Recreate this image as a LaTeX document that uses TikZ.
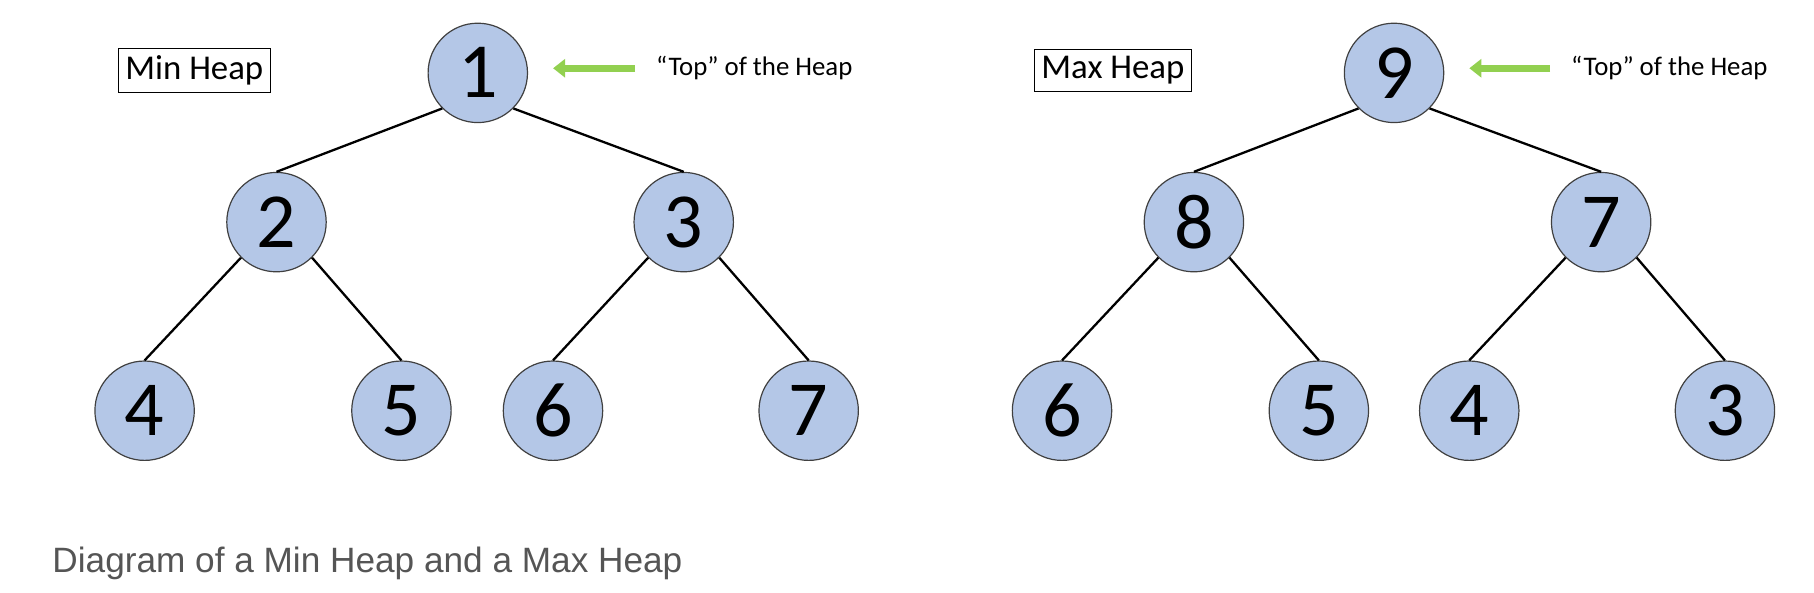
\documentclass[tikz,border=0pt]{standalone}
\usepackage{fontspec}
\setmainfont{Carlito}
\newfontfamily\captionfont{Liberation Sans}
\usetikzlibrary{arrows.meta, positioning}
\definecolor{heapblue}{RGB}{180,199,231}
\definecolor{topgreen}{RGB}{146,208,80}
\definecolor{capgray}{RGB}{85,85,85}

\begin{document}
\begin{tikzpicture}[x=0.5785pt, y=-0.5785pt,
        key/.style={circle, draw=black!75, line width=0.6pt, fill=heapblue, minimum size=49.7pt, inner sep=0pt, font=\fontsize{39}{39}\selectfont},
        edge/.style={line width=1.15pt},
        title/.style={draw, line width=0.6pt, inner sep=3.5pt, font=\fontsize{17.4}{17.4}\selectfont},
        toptext/.style={font=\fontsize{13.4}{13.4}\selectfont},
        pointer/.style={draw=topgreen, line width=3.5pt, -{Triangle[length=6pt, width=9pt]}}]
        \useasboundingbox (0,0) rectangle (1568,512);
        % min heap
        \node[key] (min1) at (413,63) {1};
        \node[key] (min2) at (239,192) {2};
        \node[key] (min3) at (591,192) {3};
        \node[key] (min4) at (125,355) {4};
        \node[key] (min5) at (347,355) {5};
        \node[key] (min6) at (478,355) {6};
        \node[key] (min7) at (699,355) {7};
        \draw[edge] (min1.south west) -- (min2.north);
        \draw[edge] (min1.south east) -- (min3.north);
        \draw[edge] (min2.south west) -- (min4.north);
        \draw[edge] (min2.south east) -- (min5.north);
        \draw[edge] (min3.south west) -- (min6.north);
        \draw[edge] (min3.south east) -- (min7.north);
        \node[title] (mintitle) at (168,61) {Min Heap};
        \node[toptext] (mintop) at (652,59) {“Top” of the Heap};
        \draw[pointer, shorten <=7pt, shorten >=12.5pt] (mintop.west) -- (mintop.west -| min1.east);
        % max heap
        \node[key] (max1) at (1205,63) {9};
        \node[key] (max2) at (1032,192) {8};
        \node[key] (max3) at (1384,192) {7};
        \node[key] (max4) at (918,355) {6};
        \node[key] (max5) at (1140,355) {5};
        \node[key] (max6) at (1270,355) {4};
        \node[key] (max7) at (1491,355) {3};
        \draw[edge] (max1.south west) -- (max2.north);
        \draw[edge] (max1.south east) -- (max3.north);
        \draw[edge] (max2.south west) -- (max4.north);
        \draw[edge] (max2.south east) -- (max5.north);
        \draw[edge] (max3.south west) -- (max6.north);
        \draw[edge] (max3.south east) -- (max7.north);
        \node[title] (maxtitle) at (962,61) {Max Heap};
        \node[toptext] (maxtop) at (1443,59) {“Top” of the Heap};
        \draw[pointer, shorten <=7pt, shorten >=12.5pt] (maxtop.west) -- (maxtop.west -| max1.east);
        % caption
        \node[anchor=west, inner sep=0pt, text=capgray, font=\captionfont\fontsize{17.6}{17.6}\selectfont] (caption) at (45,487) {Diagram of a Min Heap and a Max Heap};
    \end{tikzpicture}
\end{document}
